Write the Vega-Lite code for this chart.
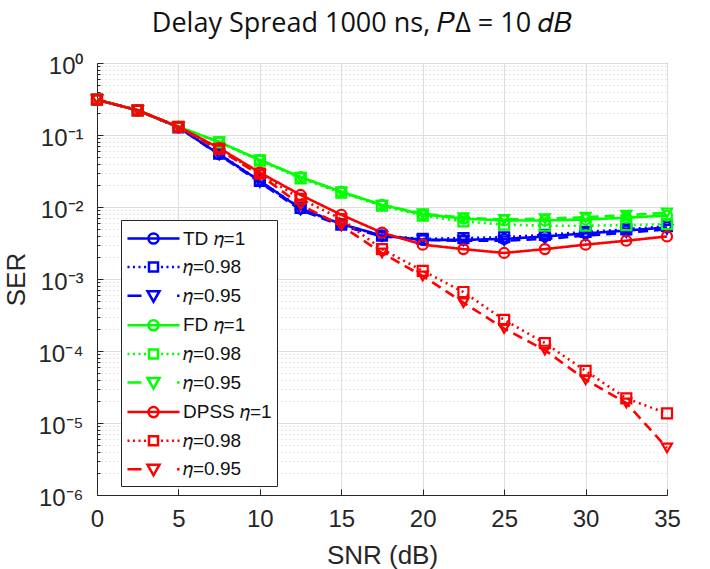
{
  "$schema": "https://vega.github.io/schema/vega-lite/v6.json",
  "autosize": "none",
  "width": 570,
  "height": 432,
  "padding": {"left": 97, "top": 63, "right": 43, "bottom": 74},
  "background": "white",
  "title": {
    "text": "Delay Spread 1000 ns, 𝑃Δ = 10 𝑑𝐵",
    "font": "Open Sans",
    "fontSize": 27,
    "fontWeight": "normal",
    "color": "#111111",
    "anchor": "middle",
    "offset": 16,
    "dx": -20
  },
  "config": {
    "view": {"stroke": "#262626", "strokeWidth": 1},
    "axis": {
      "labelFont": "Liberation Sans",
      "titleFont": "Liberation Sans",
      "labelColor": "#262626",
      "titleColor": "#262626",
      "domainColor": "#262626",
      "tickColor": "#262626",
      "titleFontWeight": "normal"
    },
    "legend": {
      "title": null,
      "orient": "none",
      "legendX": 24,
      "legendY": 157,
      "direction": "vertical",
      "fillColor": "white",
      "strokeColor": "#262626",
      "padding": 5,
      "rowPadding": 4.6,
      "symbolSize": 576,
      "symbolOffset": 14,
      "symbolOpacity": 1,
      "symbolStrokeWidth": 2.5,
      "symbolFillColor": "transparent",
      "labelFont": "Liberation Sans",
      "labelFontSize": 19,
      "labelColor": "#111111",
      "labelOffset": 16,
      "labelLimit": 200
    }
  },
  "data": {
    "values": [
      {"snr": 0, "ser": 0.31, "series": "TD η=1"},
      {"snr": 2.5, "ser": 0.22, "series": "TD η=1"},
      {"snr": 5, "ser": 0.128, "series": "TD η=1"},
      {"snr": 7.5, "ser": 0.054, "series": "TD η=1"},
      {"snr": 10, "ser": 0.023, "series": "TD η=1"},
      {"snr": 12.5, "ser": 0.0095, "series": "TD η=1"},
      {"snr": 15, "ser": 0.0058, "series": "TD η=1"},
      {"snr": 17.5, "ser": 0.004, "series": "TD η=1"},
      {"snr": 20, "ser": 0.0035, "series": "TD η=1"},
      {"snr": 22.5, "ser": 0.0035, "series": "TD η=1"},
      {"snr": 25, "ser": 0.0036, "series": "TD η=1"},
      {"snr": 27.5, "ser": 0.0039, "series": "TD η=1"},
      {"snr": 30, "ser": 0.0043, "series": "TD η=1"},
      {"snr": 32.5, "ser": 0.0047, "series": "TD η=1"},
      {"snr": 35, "ser": 0.0052, "series": "TD η=1"},

      {"snr": 0, "ser": 0.31, "series": "TD η=0.98"},
      {"snr": 2.5, "ser": 0.22, "series": "TD η=0.98"},
      {"snr": 5, "ser": 0.128, "series": "TD η=0.98"},
      {"snr": 7.5, "ser": 0.055, "series": "TD η=0.98"},
      {"snr": 10, "ser": 0.023, "series": "TD η=0.98"},
      {"snr": 12.5, "ser": 0.0097, "series": "TD η=0.98"},
      {"snr": 15, "ser": 0.0057, "series": "TD η=0.98"},
      {"snr": 17.5, "ser": 0.004, "series": "TD η=0.98"},
      {"snr": 20, "ser": 0.0036, "series": "TD η=0.98"},
      {"snr": 22.5, "ser": 0.0037, "series": "TD η=0.98"},
      {"snr": 25, "ser": 0.0038, "series": "TD η=0.98"},
      {"snr": 27.5, "ser": 0.0041, "series": "TD η=0.98"},
      {"snr": 30, "ser": 0.0045, "series": "TD η=0.98"},
      {"snr": 32.5, "ser": 0.0049, "series": "TD η=0.98"},
      {"snr": 35, "ser": 0.0054, "series": "TD η=0.98"},

      {"snr": 0, "ser": 0.31, "series": "TD η=0.95"},
      {"snr": 2.5, "ser": 0.22, "series": "TD η=0.95"},
      {"snr": 5, "ser": 0.128, "series": "TD η=0.95"},
      {"snr": 7.5, "ser": 0.053, "series": "TD η=0.95"},
      {"snr": 10, "ser": 0.022, "series": "TD η=0.95"},
      {"snr": 12.5, "ser": 0.0091, "series": "TD η=0.95"},
      {"snr": 15, "ser": 0.0055, "series": "TD η=0.95"},
      {"snr": 17.5, "ser": 0.0039, "series": "TD η=0.95"},
      {"snr": 20, "ser": 0.0035, "series": "TD η=0.95"},
      {"snr": 22.5, "ser": 0.0034, "series": "TD η=0.95"},
      {"snr": 25, "ser": 0.0034, "series": "TD η=0.95"},
      {"snr": 27.5, "ser": 0.0036, "series": "TD η=0.95"},
      {"snr": 30, "ser": 0.004, "series": "TD η=0.95"},
      {"snr": 32.5, "ser": 0.0044, "series": "TD η=0.95"},
      {"snr": 35, "ser": 0.0049, "series": "TD η=0.95"},

      {"snr": 0, "ser": 0.31, "series": "FD η=1"},
      {"snr": 2.5, "ser": 0.22, "series": "FD η=1"},
      {"snr": 5, "ser": 0.13, "series": "FD η=1"},
      {"snr": 7.5, "ser": 0.08, "series": "FD η=1"},
      {"snr": 10, "ser": 0.045, "series": "FD η=1"},
      {"snr": 12.5, "ser": 0.026, "series": "FD η=1"},
      {"snr": 15, "ser": 0.0163, "series": "FD η=1"},
      {"snr": 17.5, "ser": 0.0107, "series": "FD η=1"},
      {"snr": 20, "ser": 0.0079, "series": "FD η=1"},
      {"snr": 22.5, "ser": 0.0069, "series": "FD η=1"},
      {"snr": 25, "ser": 0.0065, "series": "FD η=1"},
      {"snr": 27.5, "ser": 0.0065, "series": "FD η=1"},
      {"snr": 30, "ser": 0.0067, "series": "FD η=1"},
      {"snr": 32.5, "ser": 0.0071, "series": "FD η=1"},
      {"snr": 35, "ser": 0.0076, "series": "FD η=1"},

      {"snr": 0, "ser": 0.31, "series": "FD η=0.98"},
      {"snr": 2.5, "ser": 0.22, "series": "FD η=0.98"},
      {"snr": 5, "ser": 0.13, "series": "FD η=0.98"},
      {"snr": 7.5, "ser": 0.079, "series": "FD η=0.98"},
      {"snr": 10, "ser": 0.044, "series": "FD η=0.98"},
      {"snr": 12.5, "ser": 0.025, "series": "FD η=0.98"},
      {"snr": 15, "ser": 0.0158, "series": "FD η=0.98"},
      {"snr": 17.5, "ser": 0.0104, "series": "FD η=0.98"},
      {"snr": 20, "ser": 0.0076, "series": "FD η=0.98"},
      {"snr": 22.5, "ser": 0.0063, "series": "FD η=0.98"},
      {"snr": 25, "ser": 0.0057, "series": "FD η=0.98"},
      {"snr": 27.5, "ser": 0.0055, "series": "FD η=0.98"},
      {"snr": 30, "ser": 0.0055, "series": "FD η=0.98"},
      {"snr": 32.5, "ser": 0.0056, "series": "FD η=0.98"},
      {"snr": 35, "ser": 0.0058, "series": "FD η=0.98"},

      {"snr": 0, "ser": 0.31, "series": "FD η=0.95"},
      {"snr": 2.5, "ser": 0.22, "series": "FD η=0.95"},
      {"snr": 5, "ser": 0.13, "series": "FD η=0.95"},
      {"snr": 7.5, "ser": 0.08, "series": "FD η=0.95"},
      {"snr": 10, "ser": 0.045, "series": "FD η=0.95"},
      {"snr": 12.5, "ser": 0.026, "series": "FD η=0.95"},
      {"snr": 15, "ser": 0.0162, "series": "FD η=0.95"},
      {"snr": 17.5, "ser": 0.0106, "series": "FD η=0.95"},
      {"snr": 20, "ser": 0.0081, "series": "FD η=0.95"},
      {"snr": 22.5, "ser": 0.0071, "series": "FD η=0.95"},
      {"snr": 25, "ser": 0.0067, "series": "FD η=0.95"},
      {"snr": 27.5, "ser": 0.0069, "series": "FD η=0.95"},
      {"snr": 30, "ser": 0.0072, "series": "FD η=0.95"},
      {"snr": 32.5, "ser": 0.0077, "series": "FD η=0.95"},
      {"snr": 35, "ser": 0.0083, "series": "FD η=0.95"},

      {"snr": 0, "ser": 0.31, "series": "DPSS η=1"},
      {"snr": 2.5, "ser": 0.22, "series": "DPSS η=1"},
      {"snr": 5, "ser": 0.13, "series": "DPSS η=1"},
      {"snr": 7.5, "ser": 0.066, "series": "DPSS η=1"},
      {"snr": 10, "ser": 0.03, "series": "DPSS η=1"},
      {"snr": 12.5, "ser": 0.0147, "series": "DPSS η=1"},
      {"snr": 15, "ser": 0.0078, "series": "DPSS η=1"},
      {"snr": 17.5, "ser": 0.0044, "series": "DPSS η=1"},
      {"snr": 20, "ser": 0.003, "series": "DPSS η=1"},
      {"snr": 22.5, "ser": 0.0026, "series": "DPSS η=1"},
      {"snr": 25, "ser": 0.0023, "series": "DPSS η=1"},
      {"snr": 27.5, "ser": 0.0026, "series": "DPSS η=1"},
      {"snr": 30, "ser": 0.003, "series": "DPSS η=1"},
      {"snr": 32.5, "ser": 0.0034, "series": "DPSS η=1"},
      {"snr": 35, "ser": 0.0039, "series": "DPSS η=1"},

      {"snr": 0, "ser": 0.31, "series": "DPSS η=0.98"},
      {"snr": 2.5, "ser": 0.22, "series": "DPSS η=0.98"},
      {"snr": 5, "ser": 0.13, "series": "DPSS η=0.98"},
      {"snr": 7.5, "ser": 0.064, "series": "DPSS η=0.98"},
      {"snr": 10, "ser": 0.029, "series": "DPSS η=0.98"},
      {"snr": 12.5, "ser": 0.013, "series": "DPSS η=0.98"},
      {"snr": 15, "ser": 0.0068, "series": "DPSS η=0.98"},
      {"snr": 17.5, "ser": 0.0026, "series": "DPSS η=0.98"},
      {"snr": 20, "ser": 0.0013, "series": "DPSS η=0.98"},
      {"snr": 22.5, "ser": 0.00066, "series": "DPSS η=0.98"},
      {"snr": 25, "ser": 0.00027, "series": "DPSS η=0.98"},
      {"snr": 27.5, "ser": 0.000129, "series": "DPSS η=0.98"},
      {"snr": 30, "ser": 0.000053, "series": "DPSS η=0.98"},
      {"snr": 32.5, "ser": 0.000022, "series": "DPSS η=0.98"},
      {"snr": 35, "ser": 0.0000136, "series": "DPSS η=0.98"},

      {"snr": 0, "ser": 0.31, "series": "DPSS η=0.95"},
      {"snr": 2.5, "ser": 0.22, "series": "DPSS η=0.95"},
      {"snr": 5, "ser": 0.13, "series": "DPSS η=0.95"},
      {"snr": 7.5, "ser": 0.062, "series": "DPSS η=0.95"},
      {"snr": 10, "ser": 0.028, "series": "DPSS η=0.95"},
      {"snr": 12.5, "ser": 0.0107, "series": "DPSS η=0.95"},
      {"snr": 15, "ser": 0.0055, "series": "DPSS η=0.95"},
      {"snr": 17.5, "ser": 0.0023, "series": "DPSS η=0.95"},
      {"snr": 20, "ser": 0.0011, "series": "DPSS η=0.95"},
      {"snr": 22.5, "ser": 0.00047, "series": "DPSS η=0.95"},
      {"snr": 25, "ser": 0.000205, "series": "DPSS η=0.95"},
      {"snr": 27.5, "ser": 0.000103, "series": "DPSS η=0.95"},
      {"snr": 30, "ser": 0.00004, "series": "DPSS η=0.95"},
      {"snr": 32.5, "ser": 0.000019, "series": "DPSS η=0.95"},
      {"snr": 35, "ser": 0.0000045, "series": "DPSS η=0.95"}
    ]
  },
  "encoding": {
    "x": {
      "field": "snr",
      "type": "quantitative",
      "scale": {"domain": [0, 35], "nice": false, "zero": false},
      "axis": {
        "title": "SNR (dB)",
        "values": [0, 5, 10, 15, 20, 25, 30, 35],
        "grid": true,
        "gridColor": "#dedede",
        "gridWidth": 1,
        "tickSize": -6,
        "labelPadding": 18,
        "labelFontSize": 24,
        "titleFontSize": 26,
        "titlePadding": 11,
        "labelFlush": false
      }
    }
  },
  "resolve": {
    "axis": {"y": "independent"},
    "scale": {"shape": "independent", "color": "independent"},
    "legend": {"shape": "independent", "color": "independent"}
  },
  "layer": [
    {
      "mark": {"type": "line", "strokeWidth": 2.6},
      "encoding": {
        "y": {
          "field": "ser",
          "type": "quantitative",
          "scale": {"type": "log", "domain": [0.000001, 1], "nice": false},
          "axis": {
            "orient": "left",
            "title": "SER",
            "values": [0.000001, 0.00001, 0.0001, 0.001, 0.01, 0.1, 1],
            "labelExpr": "'10' + ['⁰','⁻¹','⁻²','⁻³','⁻⁴','⁻⁵','⁻⁶'][round(-log(datum.value)/LN10)]",
            "grid": true,
            "gridColor": "#dedede",
            "gridWidth": 1,
            "tickSize": -6,
            "labelPadding": 20,
            "labelOffset": 3,
            "labelFontSize": 24,
            "titleFontSize": 26,
            "titlePadding": 8,
            "labelFlush": false
          }
        },
        "color": {
          "field": "series",
          "type": "nominal",
          "sort": null,
          "scale": {
            "domain": ["TD η=1", "TD η=0.98", "TD η=0.95", "FD η=1", "FD η=0.98", "FD η=0.95", "DPSS η=1", "DPSS η=0.98", "DPSS η=0.95"],
            "range": ["#0000ff", "#0000ff", "#0000ff", "#00ff00", "#00ff00", "#00ff00", "#ff0000", "#ff0000", "#ff0000"]
          },
          "legend": null
        },
        "strokeDash": {
          "field": "series",
          "type": "nominal",
          "sort": null,
          "scale": {
            "domain": ["TD η=1", "TD η=0.98", "TD η=0.95", "FD η=1", "FD η=0.98", "FD η=0.95", "DPSS η=1", "DPSS η=0.98", "DPSS η=0.95"],
            "range": [[1, 0], [2, 4], [10, 6], [1, 0], [2, 4], [10, 6], [1, 0], [2, 4], [10, 6]]
          },
          "legend": null
        }
      }
    },
    {
      "mark": {"type": "point", "filled": false, "strokeWidth": 2.2, "size": 100, "opacity": 1},
      "encoding": {
        "y": {
          "field": "ser",
          "type": "quantitative",
          "scale": {"type": "log", "domain": [0.000001, 1], "nice": false},
          "axis": {
            "orient": "left",
            "title": null,
            "labels": false,
            "domain": false,
            "values": [0.000002, 0.000003, 0.000004, 0.000005, 0.000006, 0.000007, 0.000008, 0.000009,
                       0.00002, 0.00003, 0.00004, 0.00005, 0.00006, 0.00007, 0.00008, 0.00009,
                       0.0002, 0.0003, 0.0004, 0.0005, 0.0006, 0.0007, 0.0008, 0.0009,
                       0.002, 0.003, 0.004, 0.005, 0.006, 0.007, 0.008, 0.009,
                       0.02, 0.03, 0.04, 0.05, 0.06, 0.07, 0.08, 0.09,
                       0.2, 0.3, 0.4, 0.5, 0.6, 0.7, 0.8, 0.9],
            "grid": true,
            "gridColor": "#d0d0d0",
            "gridDash": [1, 3],
            "gridWidth": 1,
            "tickSize": -3,
            "zindex": 0
          }
        },
        "color": {
          "field": "series",
          "type": "nominal",
          "sort": null,
          "scale": {
            "domain": ["TD η=1", "TD η=0.98", "TD η=0.95", "FD η=1", "FD η=0.98", "FD η=0.95", "DPSS η=1", "DPSS η=0.98", "DPSS η=0.95"],
            "range": ["#0000ff", "#0000ff", "#0000ff", "#00ff00", "#00ff00", "#00ff00", "#ff0000", "#ff0000", "#ff0000"]
          },
          "legend": null
        },
        "shape": {
          "field": "series",
          "type": "nominal",
          "sort": null,
          "scale": {
            "domain": ["TD η=1", "TD η=0.98", "TD η=0.95", "FD η=1", "FD η=0.98", "FD η=0.95", "DPSS η=1", "DPSS η=0.98", "DPSS η=0.95"],
            "range": ["circle", "square", "triangle-down", "circle", "square", "triangle-down", "circle", "square", "triangle-down"]
          },
          "legend": null
        }
      }
    },
    {
      "mark": {"type": "point", "filled": false, "strokeWidth": 2.5, "size": 100, "opacity": 0},
      "encoding": {
        "y": {
          "field": "ser",
          "type": "quantitative",
          "scale": {"type": "log", "domain": [0.000001, 1], "nice": false},
          "axis": null
        },
        "color": {
          "field": "series",
          "type": "nominal",
          "sort": null,
          "scale": {
            "domain": ["TD η=1", "TD η=0.98", "TD η=0.95", "FD η=1", "FD η=0.98", "FD η=0.95", "DPSS η=1", "DPSS η=0.98", "DPSS η=0.95"],
            "range": ["#0000ff", "#0000ff", "#0000ff", "#00ff00", "#00ff00", "#00ff00", "#ff0000", "#ff0000", "#ff0000"]
          },
          "legend": {
            "title": null,
            "labelExpr": "replace(indexof(datum.label, '0.9') >= 0 ? substring(datum.label, indexof(datum.label, 'η')) : datum.label, 'η', '𝜂')"
          }
        },
        "shape": {
          "field": "series",
          "type": "nominal",
          "sort": null,
          "scale": {
            "domain": ["TD η=1", "TD η=0.98", "TD η=0.95", "FD η=1", "FD η=0.98", "FD η=0.95", "DPSS η=1", "DPSS η=0.98", "DPSS η=0.95"],
            "range": [
              "M-2.17,0L2.17,0M-0.42,0A0.42,0.42 0 1,1 0.42,0A0.42,0.42 0 1,1 -0.42,0",
              "M-2.17,0L-2,0M-1.71,0L-1.54,0M-1.25,0L-1.08,0M-0.79,0L-0.62,0M-0.375,-0.375L0.375,-0.375L0.375,0.375L-0.375,0.375ZM0.62,0L0.79,0M1.08,0L1.25,0M1.54,0L1.71,0M2,0L2.17,0",
              "M-2.17,0L-1.0,0M-0.5,-0.38L0.5,-0.38L0,0.5ZM1.96,0L2.17,0",
              "M-2.17,0L2.17,0M-0.42,0A0.42,0.42 0 1,1 0.42,0A0.42,0.42 0 1,1 -0.42,0",
              "M-2.17,0L-2,0M-1.71,0L-1.54,0M-1.25,0L-1.08,0M-0.79,0L-0.62,0M-0.375,-0.375L0.375,-0.375L0.375,0.375L-0.375,0.375ZM0.62,0L0.79,0M1.08,0L1.25,0M1.54,0L1.71,0M2,0L2.17,0",
              "M-2.17,0L-1.0,0M-0.5,-0.38L0.5,-0.38L0,0.5ZM1.96,0L2.17,0",
              "M-2.17,0L2.17,0M-0.42,0A0.42,0.42 0 1,1 0.42,0A0.42,0.42 0 1,1 -0.42,0",
              "M-2.17,0L-2,0M-1.71,0L-1.54,0M-1.25,0L-1.08,0M-0.79,0L-0.62,0M-0.375,-0.375L0.375,-0.375L0.375,0.375L-0.375,0.375ZM0.62,0L0.79,0M1.08,0L1.25,0M1.54,0L1.71,0M2,0L2.17,0",
              "M-2.17,0L-1.0,0M-0.5,-0.38L0.5,-0.38L0,0.5ZM1.96,0L2.17,0"
            ]
          },
          "legend": {
            "title": null,
            "labelExpr": "replace(indexof(datum.label, '0.9') >= 0 ? substring(datum.label, indexof(datum.label, 'η')) : datum.label, 'η', '𝜂')"
          }
        }
      }
    }
  ]
}
